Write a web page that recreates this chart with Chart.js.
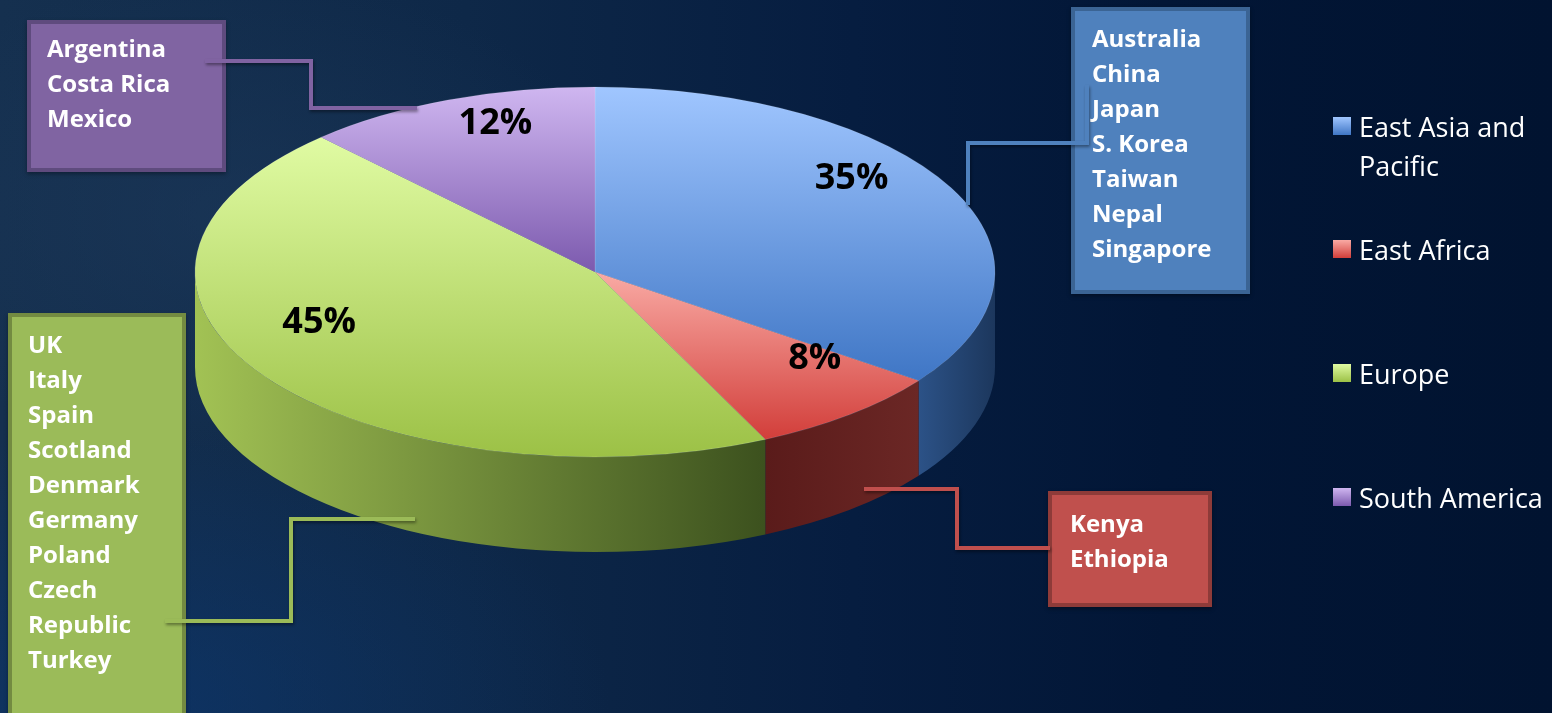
<!doctype html>
<html lang="en">
<head>
  <meta charset="utf-8">
  <title>Regional Share</title>
  <style>
    html, body {
      margin: 0;
      padding: 0;
      width: 1552px;
      height: 713px;
      overflow: hidden;
    }
    body {
      position: relative;
      font-family: 'Open Sans', 'Lato', sans-serif;
      background:
        radial-gradient(ellipse 650px 380px at 8% 100%, rgba(10,55,115,.6), rgba(10,55,115,0) 75%),
        radial-gradient(ellipse 520px 320px at 15% 30%, rgba(30,58,92,.55), rgba(30,58,92,0) 75%),
        linear-gradient(90deg, #15304f 0%, #0e2848 30%, #061d40 55%, #021636 75%, #011330 100%);
    }
    #chart { position: absolute; left: 0; top: 0; }

    .box {
      position: absolute;
      box-sizing: border-box;
      border: 4px solid;
      color: #fff;
      font-weight: 700;
      font-size: 24px;
      line-height: 35px;
      box-shadow: 0 2px 4px rgba(0,0,0,.35);
    }

    #connectors { position: absolute; left: 0; top: 0; pointer-events: none; }

    .legend-item {
      position: absolute;
      left: 1333px;
      color: #fff;
      font-size: 27px;
      line-height: 39px;
      display: flex;
      align-items: flex-start;
      white-space: nowrap;
    }
    .legend-item .swatch {
      width: 18px;
      height: 18px;
      margin-top: 10px;
      margin-right: 8px;
      flex: none;
    }
  </style>
</head>
<body>

  <canvas id="chart" width="1552" height="713"></canvas>

  <div class="box" id="box-sa" style="left:27px;  top:20px;  width:199px; height:152px; padding:6px 10px 0 16px; background:#8064a2; border-color:#5f4b7e;"></div>
  <div class="box" id="box-ea" style="left:1071px; top:7px;  width:179px; height:287px; padding:9px 10px 0 17px; background:#4f81bd; border-color:#3b6494;"></div>
  <div class="box" id="box-eu" style="left:8px;   top:313px; width:178px; height:430px; padding:9px 10px 0 16px; background:#9bbb59; border-color:#738b41;"></div>
  <div class="box" id="box-af" style="left:1048px; top:491px; width:164px; height:116px; padding:10px 10px 0 18px; background:#c0504d; border-color:#8e3b39;"></div>

  <svg id="connectors" width="1552" height="713">
    <defs>
      <filter id="sh" x="-10%" y="-10%" width="120%" height="120%">
        <feDropShadow dx="1" dy="2" stdDeviation="1.5" flood-color="#000" flood-opacity=".4"/>
      </filter>
    </defs>
    <g fill="none" stroke-width="4" filter="url(#sh)">
      <polyline stroke="#8064a2" points="205,61 311,61 311,108 417,108"/>
      <polyline stroke="#4f81bd" points="968,205 968,143 1087,143 1087,85"/>
      <polyline stroke="#9bbb59" points="415,519 291,519 291,621 165,621"/>
      <polyline stroke="#c0504d" points="864,489 957,489 957,548 1050,548"/>
    </g>
  </svg>

  <script src="https://cdn.jsdelivr.net/npm/chart.js"></script>
  <script>
    const regions = ['East Asia and Pacific', 'East Africa', 'Europe', 'South America'];
    const shares  = [35, 8, 45, 12];

    const eastAsia     = ['Australia', 'China', 'Japan', 'S. Korea', 'Taiwan', 'Nepal', 'Singapore'];
    const eastAfrica   = ['Kenya', 'Ethiopia'];
    const europe       = ['UK', 'Italy', 'Spain', 'Scotland', 'Denmark', 'Germany', 'Poland', 'Czech Republic', 'Turkey'];
    const southAmerica = ['Argentina', 'Costa Rica', 'Mexico'];

    // top face gradient (light -> dark) and side wall (left -> right)
    const topColors  = [['#a0c6ff', '#3f76c5'], ['#f9aaa4', '#d23e3a'], ['#e0fba3', '#9cc146'], ['#cfb6f0', '#7c5aae']];
    const sideColors = [['#2c5287', '#1c375d'], ['#5a1b1a', '#6b2725'], ['#a2c254', '#3c511e'], ['#5c4580', '#3e2d58']];

    // screen ellipse of the tilted pie, and perspective shift of its centre
    const CX = 595, CY = 272, RX = 400, RY = 185, DEPTH = 95, TILT = -0.184;

    // country boxes
    [['box-ea', eastAsia], ['box-af', eastAfrica], ['box-eu', europe], ['box-sa', southAmerica]].forEach(([id, list]) => {
      const el = document.getElementById(id);
      list.forEach(name => {
        const d = document.createElement('div');
        d.textContent = name;
        el.appendChild(d);
      });
    });

    // legend
    regions.forEach((name, i) => {
      const item = document.createElement('div');
      item.className = 'legend-item';
      item.style.top = (126 + i * 123.7 - 19.5) + 'px';
      const sw = document.createElement('span');
      sw.className = 'swatch';
      sw.style.background = `linear-gradient(${topColors[i][0]}, ${topColors[i][1]})`;
      const tx = document.createElement('span');
      tx.textContent = name.replace(' and ', ' and\n');
      tx.style.whiteSpace = 'pre';
      item.appendChild(sw);
      item.appendChild(tx);
      document.body.appendChild(item);
    });

    // vertical gradient over the bounding box of each slice (unscaled chart coords)
    function sliceGradient(c) {
      const chart = c.chart;
      const area = chart.chartArea;
      const i = c.dataIndex;
      if (!area) return topColors[i][1];
      const cx = (area.left + area.right) / 2;
      const cy = (area.top + area.bottom) / 2;
      const r = Math.min(area.width, area.height) / 2;
      const total = shares.reduce((a, b) => a + b, 0);
      const before = shares.slice(0, i).reduce((a, b) => a + b, 0);
      const s = -Math.PI / 2 + before / total * 2 * Math.PI;
      const e = s + shares[i] / total * 2 * Math.PI;
      const ys = [cy, cy + r * Math.sin(s), cy + r * Math.sin(e)];
      for (let k = -1; k <= 3; k++) {
        const a = -Math.PI / 2 + k * Math.PI;
        if (a > s && a < e) ys.push(cy + r * Math.sin(a));
      }
      const g = chart.ctx.createLinearGradient(0, Math.min(...ys), 0, Math.max(...ys));
      g.addColorStop(0, topColors[i][0]);
      g.addColorStop(1, topColors[i][1]);
      return g;
    }

    // point on the disc (unit radius, canvas angle) -> screen, with perspective
    function project(k, ang) {
      const u = k * Math.cos(ang), v = k * Math.sin(ang);
      const w = 1 + TILT * v;
      return [CX + RX * u * Math.sqrt(1 - TILT * TILT) / w, CY + RY * (v + TILT) / w];
    }

    const pie3d = {
      id: 'pie3d',
      beforeDatasetsDraw(chart) {
        const ctx = chart.ctx;
        const arcs = chart.getDatasetMeta(0).data;
        const a0 = arcs[0];

        // front side walls
        arcs.forEach((arc, i) => {
          const s = Math.max(arc.startAngle, 0);
          const e = Math.min(arc.endAngle, Math.PI);
          if (e <= s) return;
          const x1 = e >= Math.PI ? CX - RX : CX + RX * Math.cos(e);
          const x2 = CX + RX * Math.cos(s);
          const g = ctx.createLinearGradient(x1, 0, x2, 0);
          g.addColorStop(0, sideColors[i][0]);
          g.addColorStop(1, sideColors[i][1]);
          ctx.beginPath();
          ctx.ellipse(CX, CY, RX, RY, 0, s, e);
          ctx.ellipse(CX, CY + DEPTH, RX, RY, 0, e, s, true);
          ctx.closePath();
          ctx.fillStyle = g;
          ctx.fill();
        });

        // squash the library's pie into the top face
        ctx.save();
        ctx.translate(CX, CY);
        ctx.scale(RX / a0.outerRadius, RY / a0.outerRadius);
        ctx.translate(-a0.x, -a0.y);
      },
      afterDatasetsDraw(chart) {
        const ctx = chart.ctx;
        ctx.restore();
        const arcs = chart.getDatasetMeta(0).data;
        const total = shares.reduce((a, b) => a + b, 0);
        ctx.save();
        ctx.fillStyle = '#000';
        ctx.font = 'bold 36px "Open Sans", sans-serif';
        ctx.textAlign = 'center';
        ctx.textBaseline = 'middle';
        arcs.forEach((arc, i) => {
          const mid = (arc.startAngle + arc.endAngle) / 2;
          const [x, y] = project(0.78, mid);
          ctx.fillText(Math.round(shares[i] / total * 100) + '%', x, y);
        });
        ctx.restore();
      }
    };

    new Chart(document.getElementById('chart'), {
      type: 'pie',
      data: {
        labels: regions,
        datasets: [{
          data: shares,
          backgroundColor: sliceGradient,
          borderWidth: 0.6,
          borderColor: 'rgba(255,255,255,0.25)',
          clip: false
        }]
      },
      options: {
        responsive: false,
        animation: false,
        layout: { padding: { left: 245, right: 607, top: 6, bottom: 7 } },
        plugins: {
          legend:  { display: false },
          tooltip: { enabled: false }
        }
      },
      plugins: [pie3d]
    });
  </script>
</body>
</html>
